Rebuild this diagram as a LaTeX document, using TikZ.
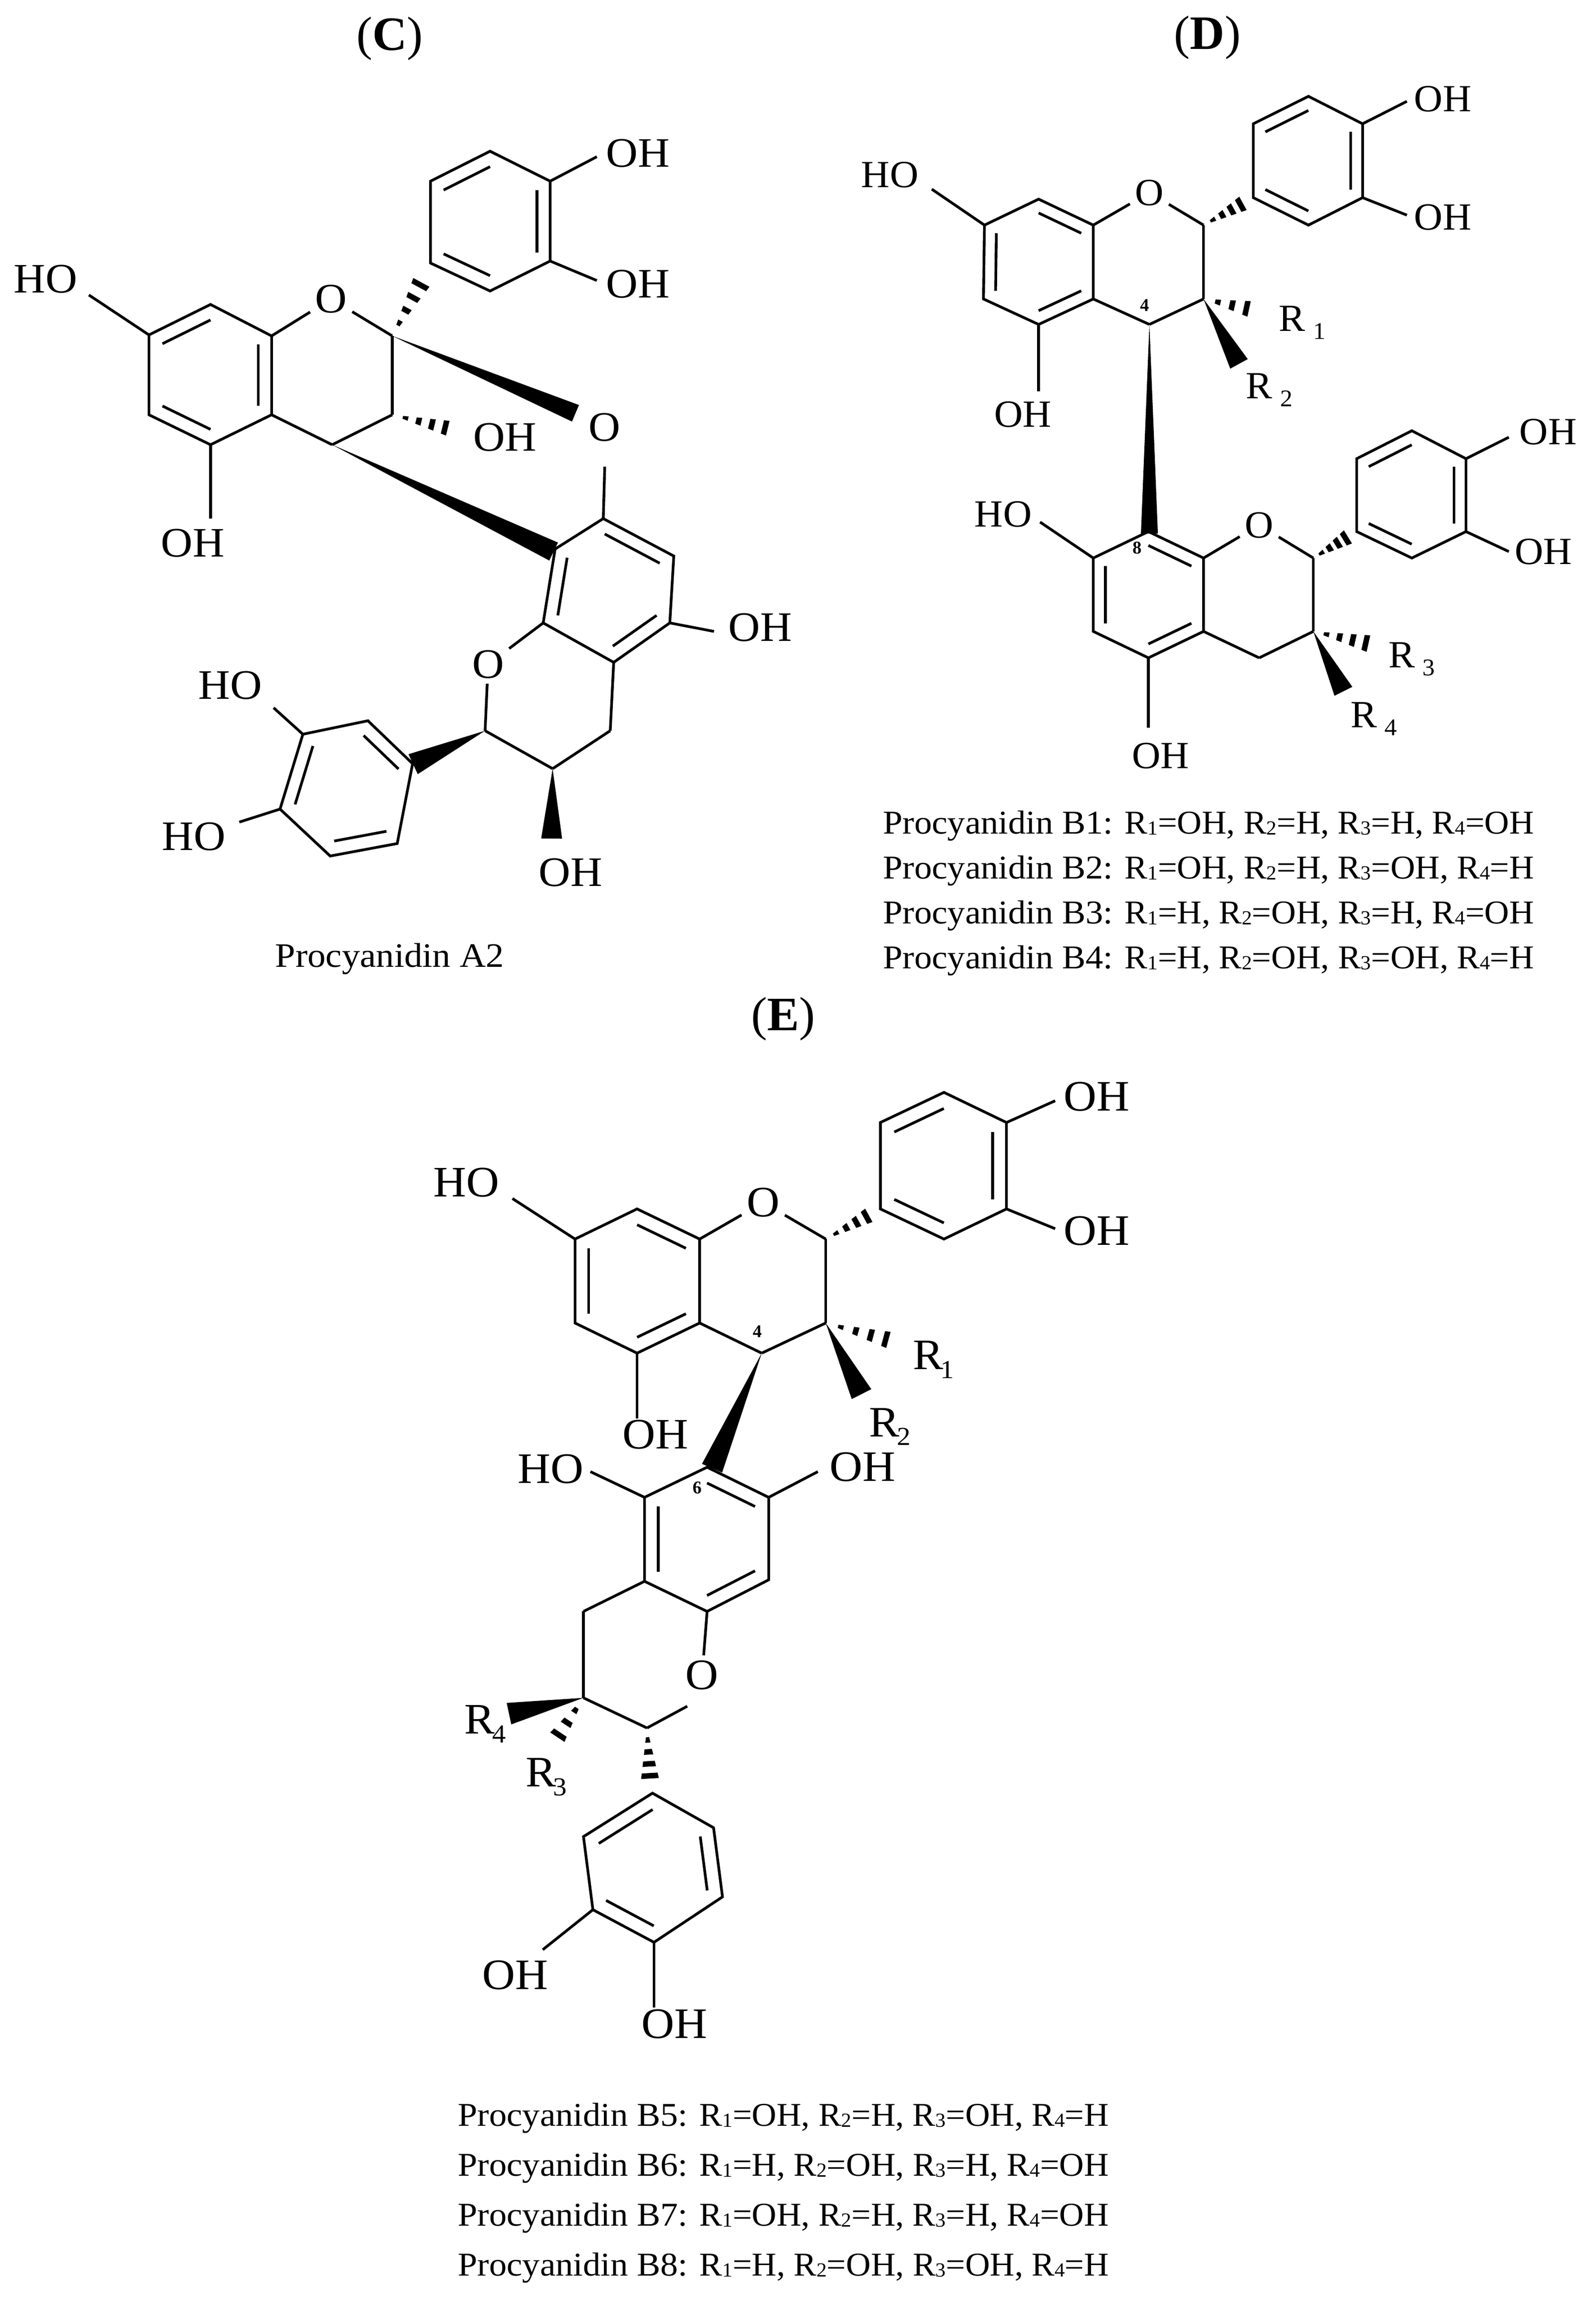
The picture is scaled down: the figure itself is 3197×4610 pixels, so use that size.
\documentclass[tikz,border=0pt]{standalone}
\usepackage{fontspec}
\usepackage{graphicx}
\setmainfont{Liberation Serif}
\newfontfamily\capfont[FakeStretch=1.06]{Liberation Serif}
\newfontfamily\capb[FakeStretch=1.03]{Liberation Serif}
\newfontfamily\atomC[FakeStretch=1.05]{Liberation Serif}
\newfontfamily\atomD[FakeStretch=1.03]{Liberation Serif}
\newfontfamily\atomE[FakeStretch=1.05]{Liberation Serif}
\usetikzlibrary{calc}
\newcommand\atomfnt{\atomC\fontsize{42}{42}\selectfont}
\tikzset{
  bond/.style={line width=2.7pt,line join=miter,line cap=butt,black},
  atomlab/.style={font=\atomfnt,inner sep=0pt,text=black},
  olab/.style={atomlab,inner sep=5pt},
  rlab/.style={atomlab,anchor=base west},
  numlab/.style={font=\fontsize{18}{18}\selectfont\bfseries,inner sep=0pt},
  captionlab/.style={font=\capfont\fontsize{33.3}{35}\selectfont,inner sep=0pt,anchor=base west},
  titlelab/.style={font=\fontsize{48}{50}\selectfont,inner sep=0pt},
}
\newcommand\atm[3]{\coordinate (#1) at (#2,#3);}
\newcommand\bnd[2]{\draw[bond] (#1) -- (#2);}
\newcommand\ringsix[7]{%
  \draw[bond] (#2)--(#3)--(#4)--(#5)--(#6)--(#7)--cycle;
  \coordinate (#1) at (barycentric cs:#2=1,#3=1,#4=1,#5=1,#6=1,#7=1);}
\newcommand\inn[3]{\draw[bond] ($(#1)!.78!(#2)$) -- ($(#1)!.78!(#3)$);}
\newcommand\wdg[3]{\fill[black] (#1) -- ($(#2)!#3!90:(#1)$) -- ($(#2)!#3!-90:(#1)$) -- cycle;}
\newcommand\hsh[4]{%
  \begin{scope}
  \coordinate (hb) at ($(#1)!1.15!(#2)$);
  \clip (#1) -- ($(hb)!1.15*#3!90:(#1)$) -- ($(hb)!1.15*#3!-90:(#1)$) -- cycle;
  \foreach \k in {1,...,#4}{%
    \pgfmathsetmacro\q{\k/#4}
    \coordinate (hp) at ($(#1)!\q!(#2)$);
    \draw[line width=5.5pt,black] ($(hp)!30pt!90:(#2)$) -- ($(hp)!30pt!-90:(#2)$);
  }
  \end{scope}}
\newcommand\Rn[2]{R\kern.2em\raisebox{-.22em}{\fontsize{24}{24}\selectfont #1}}
\newcommand\Rs[1]{R\kern-.06em\raisebox{-.2em}{\fontsize{26}{26}\selectfont #1}}
\newcommand\cs[1]{\raisebox{-.03em}{\fontsize{20}{20}\selectfont #1}}
\begin{document}
\begin{tikzpicture}[x=.5pt,y=-.5pt]
\useasboundingbox (0,0) rectangle (3197,4610);
\fill[white] (0,0) rectangle (3197,4610);
% ---------- Panel C ----------
\begin{scope}[x=.49745pt]
\renewcommand\atomfnt{\atomC\fontsize{42}{42}\selectfont}
\node[titlelab] (tC) at (785,77) {(\textbf{C})};
\atm{a1}{300}{671}\atm{a2}{424}{610}\atm{a3}{547}{673}\atm{a4}{547}{831}\atm{a5}{424}{891}\atm{a6}{300}{831}
\atm{c2}{790}{673}\atm{c3}{790}{831}\atm{c4}{669}{891}
\node[olab] (cO1) at (667,599) {O};
\ringsix{rA}{a1}{a2}{a3}{a4}{a5}{a6}
\inn{rA}{a1}{a2}\inn{rA}{a3}{a4}\inn{rA}{a5}{a6}
\bnd{a3}{cO1}\bnd{cO1}{c2}\bnd{c2}{c3}\bnd{c3}{c4}\bnd{c4}{a4}
\node[atomlab] (cHO1) at (92,559) {HO};
\atm{ce1}{179}{591}\bnd{a1}{ce1}
\node[atomlab] (cOH1) at (388,1088) {OH};
\atm{ce2}{424}{1039}\bnd{a5}{ce2}
\atm{b1}{867}{527}\atm{b2}{867}{363}\atm{b3}{987}{303}\atm{b4}{1108}{363}\atm{b5}{1108}{523}\atm{b6}{987}{583}
\ringsix{rB}{b1}{b2}{b3}{b4}{b5}{b6}
\inn{rB}{b2}{b3}\inn{rB}{b4}{b5}\inn{rB}{b6}{b1}
\node[atomlab] (cOH2) at (1285,307) {OH};
\atm{ce3}{1202}{314}\bnd{b4}{ce3}
\node[atomlab] (cOH3) at (1285,569) {OH};
\atm{ce4}{1202}{562}\bnd{b5}{ce4}
\atm{ch1}{860}{545}\hsh{c2}{ch1}{11pt}{5}
\atm{cw1}{1159}{828}\wdg{c2}{cw1}{9pt}
\node[olab] (cO2) at (1218,856) {O};
\atm{ch2}{923}{863}\hsh{c3}{ch2}{9pt}{5}
\node[atomlab] (cOH4) at (1017,876) {OH};
\atm{d1}{1118}{1100}\atm{d2}{1215}{1039}\atm{d3}{1357}{1114}\atm{d4}{1349}{1248}\atm{d5}{1236}{1327}\atm{d6}{1094}{1248}
\ringsix{rD}{d1}{d2}{d3}{d4}{d5}{d6}
\inn{rD}{d2}{d3}\inn{rD}{d4}{d5}\inn{rD}{d6}{d1}
\atm{cw2}{1115}{1105}\wdg{c4}{cw2}{10pt}
\atm{ce5}{1218}{935}\bnd{d2}{ce5}
\node[atomlab] (cOH5) at (1531,1257) {OH};
\atm{ce6}{1438}{1265}\bnd{d4}{ce6}
\node[olab] (cO3) at (983,1331) {O};
\atm{e1}{977}{1464}\atm{e2}{1113}{1540}\atm{e3}{1229}{1464}
\bnd{d6}{cO3}\bnd{cO3}{e1}\bnd{e1}{e2}\bnd{e2}{e3}\bnd{e3}{d5}
\atm{cw3}{1111}{1680}\wdg{e2}{cw3}{10.5pt}
\node[atomlab] (cOH6) at (1149,1748) {OH};
\atm{f1}{831}{1530}\atm{f2}{741}{1444}\atm{f3}{610}{1471}\atm{f4}{564}{1621}\atm{f5}{665}{1715}\atm{f6}{800}{1690}
\ringsix{rF}{f1}{f2}{f3}{f4}{f5}{f6}
\inn{rF}{f1}{f2}\inn{rF}{f3}{f4}\inn{rF}{f5}{f6}
\atm{cw4}{832}{1531}\wdg{e1}{cw4}{11pt}
\node[atomlab] (cHO2) at (464,1373) {HO};
\atm{ce7}{551}{1418}\bnd{f3}{ce7}
\node[atomlab] (cHO3) at (390,1676) {HO};
\atm{ce8}{482}{1647}\bnd{f4}{ce8}
\end{scope}
\node[font=\capfont\fontsize{34.3}{35}\selectfont,inner sep=0pt,anchor=base] (cCap) at (781,1937) {Procyanidin A2};
% ---------- Panel D ----------
\begin{scope}[x=.49329pt,xshift=11.07pt]
\renewcommand\atomfnt{\atomD\fontsize{38.5}{40}\selectfont}
\node[titlelab] (tD) at (2430,75) {(\textbf{D})};
\atm{g1}{1977}{451}\atm{g2}{2087}{399}\atm{g3}{2198}{451}\atm{g4}{2198}{599}\atm{g5}{2087}{650}\atm{g6}{1975}{599}
\ringsix{rG}{g1}{g2}{g3}{g4}{g5}{g6}
\inn{rG}{g2}{g3}\inn{rG}{g4}{g5}\inn{rG}{g6}{g1}
\node[olab] (dO1) at (2312,386) {O};
\atm{h2}{2422}{451}\atm{h3}{2422}{599}\atm{h4}{2312}{650}
\bnd{g3}{dO1}\bnd{dO1}{h2}\bnd{h2}{h3}\bnd{h3}{h4}\bnd{h4}{g4}
\node[atomlab] (dHO1) at (1785,350) {HO};
\atm{de1}{1870}{379}\bnd{g1}{de1}
\node[atomlab] (dOH1) at (2055,830) {OH};
\atm{de2}{2087}{784}\bnd{g5}{de2}
\node[numlab] (dn4) at (2302,612) {4};
\atm{i1}{2523}{396}\atm{i2}{2523}{248}\atm{i3}{2635}{193}\atm{i4}{2745}{248}\atm{i5}{2745}{396}\atm{i6}{2635}{451}
\ringsix{rI}{i1}{i2}{i3}{i4}{i5}{i6}
\inn{rI}{i2}{i3}\inn{rI}{i4}{i5}\inn{rI}{i6}{i1}
\node[atomlab] (dOH2) at (2908,198) {OH};
\atm{de3}{2835}{203}\bnd{i4}{de3}
\node[atomlab] (dOH3) at (2908,435) {OH};
\atm{de4}{2835}{431}\bnd{i5}{de4}
\coordinate (dh3) at ($(h2)!.93!(i1)$);\hsh{h2}{dh3}{9pt}{5}
\atm{dh1}{2538}{624}\hsh{h3}{dh1}{10pt}{4}
\node[rlab] (dR1) at (2575,663) {\Rn{1}{}};
\atm{dw1}{2494}{729}\wdg{h3}{dw1}{10pt}
\node[rlab] (dR2) at (2508,798) {\Rn{2}{}};
\atm{k1}{2198}{1118}\atm{k2}{2310}{1065}\atm{k3}{2422}{1118}\atm{k4}{2422}{1265}\atm{k5}{2310}{1318}\atm{k6}{2198}{1265}
\ringsix{rK}{k1}{k2}{k3}{k4}{k5}{k6}
\inn{rK}{k2}{k3}\inn{rK}{k4}{k5}\inn{rK}{k6}{k1}
\atm{dw2}{2312}{1069}\wdg{h4}{dw2}{8.5pt}
\node[numlab] (dn8) at (2287,1098) {8};
\node[atomlab] (dHO2) at (2015,1030) {HO};
\atm{de5}{2090}{1046}\bnd{k1}{de5}
\node[olab] (dO2) at (2535,1052) {O};
\atm{m2}{2645}{1118}\atm{m3}{2645}{1265}\atm{m4}{2535}{1318}
\bnd{k3}{dO2}\bnd{dO2}{m2}\bnd{m2}{m3}\bnd{m3}{m4}\bnd{m4}{k4}
\node[atomlab] (dOH4) at (2335,1514) {OH};
\atm{de6}{2310}{1458}\bnd{k5}{de6}
\atm{n1}{2733}{1065}\atm{n2}{2733}{919}\atm{n3}{2845}{863}\atm{n4}{2955}{919}\atm{n5}{2955}{1065}\atm{n6}{2845}{1118}
\ringsix{rN}{n1}{n2}{n3}{n4}{n5}{n6}
\inn{rN}{n2}{n3}\inn{rN}{n4}{n5}\inn{rN}{n6}{n1}
\node[atomlab] (dOH5) at (3122,865) {OH};
\atm{de7}{3042}{876}\bnd{n4}{de7}
\node[atomlab] (dOH6) at (3112,1105) {OH};
\atm{de8}{3042}{1105}\bnd{n5}{de8}
\coordinate (dh4) at ($(m2)!.93!(n1)$);\hsh{m2}{dh4}{9pt}{5}
\atm{dh2}{2778}{1294}\hsh{m3}{dh2}{10pt}{5}
\node[rlab] (dR3) at (2797,1337) {\Rn{3}{}};
\atm{dw3}{2706}{1385}\wdg{m3}{dw3}{10pt}
\node[rlab] (dR4) at (2720,1457) {\Rn{4}{}};
\end{scope}
\node[captionlab] (dC1) at (1769,1670) {Procyanidin B1: \capb R\cs{1}=OH, R\cs{2}=H, R\cs{3}=H, R\cs{4}=OH};
\node[captionlab] (dC2) at (1769,1760) {Procyanidin B2: \capb R\cs{1}=OH, R\cs{2}=H, R\cs{3}=OH, R\cs{4}=H};
\node[captionlab] (dC3) at (1769,1850) {Procyanidin B3: \capb R\cs{1}=H, R\cs{2}=OH, R\cs{3}=H, R\cs{4}=OH};
\node[captionlab] (dC4) at (1769,1940) {Procyanidin B4: \capb R\cs{1}=H, R\cs{2}=OH, R\cs{3}=OH, R\cs{4}=H};
% ---------- Panel E ----------
\node[titlelab] (tE) at (1569,2041) {(\textbf{E})};
\begin{scope}[x=.49745pt,xshift=2.04pt,y=-.4947pt,yshift=-10.87pt]
\renewcommand\atomfnt{\atomE\fontsize{43.5}{44}\selectfont}
\atm{p1}{1154}{2487}\atm{p2}{1279}{2426}\atm{p3}{1405}{2487}\atm{p4}{1405}{2657}\atm{p5}{1279}{2718}\atm{p6}{1154}{2657}
\ringsix{rP}{p1}{p2}{p3}{p4}{p5}{p6}
\inn{rP}{p2}{p3}\inn{rP}{p4}{p5}\inn{rP}{p6}{p1}
\node[olab] (eO1) at (1533,2413) {O};
\atm{q2}{1659}{2487}\atm{q3}{1659}{2657}\atm{q4}{1530}{2718}
\bnd{p3}{eO1}\bnd{eO1}{q2}\bnd{q2}{q3}\bnd{q3}{q4}\bnd{q4}{p4}
\node[atomlab] (eHO1) at (935,2372) {HO};
\atm{ee1}{1028}{2405}\bnd{p1}{ee1}
\node[atomlab] (eOH1) at (1316,2883) {OH};
\atm{ee2}{1279}{2850}\bnd{p5}{ee2}
\node[numlab] (en4) at (1521,2674) {4};
\atm{s1}{1769}{2426}\atm{s2}{1769}{2251}\atm{s3}{1897}{2190}\atm{s4}{2023}{2251}\atm{s5}{2023}{2426}\atm{s6}{1897}{2487}
\ringsix{rS}{s1}{s2}{s3}{s4}{s5}{s6}
\inn{rS}{s2}{s3}\inn{rS}{s4}{s5}\inn{rS}{s6}{s1}
\node[atomlab] (eOH2) at (2205,2199) {OH};
\atm{ee3}{2121}{2207}\bnd{s4}{ee3}
\node[atomlab] (eOH3) at (2205,2471) {OH};
\atm{ee4}{2121}{2466}\bnd{s5}{ee4}
\coordinate (eh4) at ($(q2)!.93!(s1)$);\hsh{q2}{eh4}{9pt}{5}
\atm{eh1}{1810}{2698}\hsh{q3}{eh1}{10pt}{5}
\node[rlab] (eR1) at (1834,2751) {\Rs{1}};
\atm{ew1}{1731}{2801}\wdg{q3}{ew1}{11pt}
\node[rlab] (eR2) at (1746,2887) {\Rs{2}};
\atm{t1}{1294}{3010}\atm{t2}{1420}{2949}\atm{t3}{1544}{3010}\atm{t4}{1544}{3177}\atm{t5}{1420}{3241}\atm{t6}{1294}{3180}
\ringsix{rT}{t1}{t2}{t3}{t4}{t5}{t6}
\inn{rT}{t2}{t3}\inn{rT}{t4}{t5}\inn{rT}{t6}{t1}
\atm{ew2}{1430}{2951}\wdg{q4}{ew2}{11pt}
\node[numlab] (en6) at (1400,2991) {6};
\node[atomlab] (eHO2) at (1105,2953) {HO};
\atm{ee5}{1185}{2958}\bnd{t1}{ee5}
\node[atomlab] (eOH4) at (1733,2949) {OH};
\atm{ee6}{1643}{2958}\bnd{t3}{ee6}
\atm{u1}{1171}{3241}\atm{u2}{1171}{3416}\atm{u3}{1299}{3477}
\node[olab] (eO2) at (1410,3370) {O};
\atm{ee9}{1380}{3433}
\bnd{t6}{u1}\bnd{u1}{u2}\bnd{u2}{u3}\bnd{u3}{ee9}\bnd{eO2}{t5}
\atm{ew3}{1021}{3448}\wdg{u2}{ew3}{11pt}
\node[rlab] (eR4) at (931,3489) {\Rs{4}};
\atm{eh2}{1105}{3516}\hsh{u2}{eh2}{10.75pt}{4}
\node[rlab] (eR3) at (1054,3596) {\Rs{3}};
\atm{v1}{1310}{3609}\atm{v2}{1433}{3679}\atm{v3}{1451}{3819}\atm{v4}{1313}{3911}\atm{v5}{1190}{3845}\atm{v6}{1171}{3697}
\ringsix{rV}{v1}{v2}{v3}{v4}{v5}{v6}
\inn{rV}{v2}{v3}\inn{rV}{v4}{v5}\inn{rV}{v6}{v1}
\atm{eh3}{1306}{3598}\hsh{u3}{eh3}{10.5pt}{5}
\node[atomlab] (eOH5) at (1034,3977) {OH};
\atm{ee7}{1089}{3926}\bnd{v5}{ee7}
\node[atomlab] (eOH6) at (1354,4076) {OH};
\atm{ee8}{1313}{4043}\bnd{v4}{ee8}
\end{scope}
\node[captionlab] (eC1) at (917,4259) {Procyanidin B5: \capb R\cs{1}=OH, R\cs{2}=H, R\cs{3}=OH, R\cs{4}=H};
\node[captionlab] (eC2) at (917,4359) {Procyanidin B6: \capb R\cs{1}=H, R\cs{2}=OH, R\cs{3}=H, R\cs{4}=OH};
\node[captionlab] (eC3) at (917,4459) {Procyanidin B7: \capb R\cs{1}=OH, R\cs{2}=H, R\cs{3}=H, R\cs{4}=OH};
\node[captionlab] (eC4) at (917,4559) {Procyanidin B8: \capb R\cs{1}=H, R\cs{2}=OH, R\cs{3}=OH, R\cs{4}=H};
\end{tikzpicture}
\end{document}
